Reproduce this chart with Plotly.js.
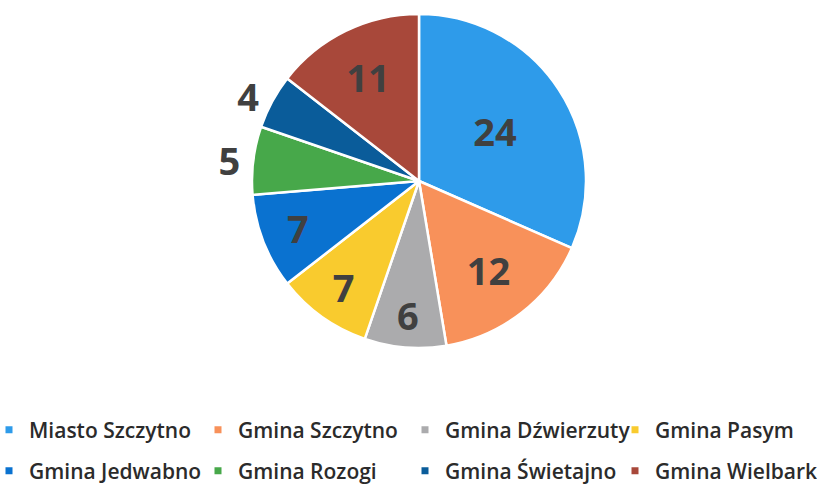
<!DOCTYPE html>
<html>
<head>
<meta charset="utf-8">
<script src="https://cdn.plot.ly/plotly-3.0.1.min.js"></script>
<style>html,body{margin:0;padding:0;background:#fff;}#chart{width:817px;height:486px;}</style>
</head>
<body>
<div id="chart"></div>
<script>
const labels = ["Miasto Szczytno", "Gmina Szczytno", "Gmina Dźwierzuty", "Gmina Pasym", "Gmina Jedwabno", "Gmina Rozogi", "Gmina Świetajno", "Gmina Wielbark"];
const values = [24, 12, 6, 7, 7, 5, 4, 11];
const colors = ["#2E9BEA", "#F8915A", "#ABABAD", "#F9CB2E", "#0A72D0", "#47A84A", "#0A5C9A", "#A8483A"];
const textPositions = ["inside", "inside", "inside", "inside", "inside", "outside", "outside", "inside"];

const W = 817, H = 486;
// legend grid (layout only): text start of each column, centre line of each row, in pixels
const legendColText = [29, 238, 445, 655];
const legendRowY = [430, 471];

const pie = {
  type: "pie",
  labels: labels,
  values: values,
  sort: false,
  direction: "clockwise",
  rotation: 0,
  marker: {colors: colors, line: {color: "#ffffff", width: 2.5}},
  textinfo: "value",
  textposition: textPositions,
  insidetextorientation: "horizontal",
  textfont: {family: "Open Sans", size: 38, color: "#404040", weight: 700},
  outsidetextfont: {family: "Open Sans", size: 38, color: "#404040", weight: 700},
  domain: {x: [252 / W, 586 / W], y: [1 - 348 / H, 1 - 14 / H]},
  hoverinfo: "none",
  showlegend: false
};

// one legend per entry, laid out as a 4 x 2 grid like the original
const legendTraces = labels.map((name, i) => ({
  type: "scatter",
  mode: "markers",
  x: [null], y: [null],
  name: name,
  legend: i === 0 ? "legend" : "legend" + (i + 1),
  marker: {symbol: "square", size: 7, color: colors[i]},
  hoverinfo: "none",
  showlegend: true
}));

const layout = {
  width: W,
  height: H,
  margin: {l: 0, r: 0, t: 0, b: 0, autoexpand: false},
  paper_bgcolor: "#ffffff",
  plot_bgcolor: "#ffffff",
  showlegend: true,
  xaxis: {visible: false},
  yaxis: {visible: false}
};

labels.forEach((name, i) => {
  const col = i % 4, row = Math.floor(i / 4);
  const key = i === 0 ? "legend" : "legend" + (i + 1);
  layout[key] = {
    orientation: "h",
    x: (legendColText[col] - 40) / W, xanchor: "left",
    y: 1 - legendRowY[row] / H, yanchor: "middle",
    font: {family: "Open Sans", size: 21, color: "#2b2b2b", weight: 600},
    itemwidth: 30,
    bgcolor: "rgba(0,0,0,0)"
  };
});

Plotly.newPlot("chart", [pie].concat(legendTraces), layout, {staticPlot: true});
</script>
</body>
</html>
